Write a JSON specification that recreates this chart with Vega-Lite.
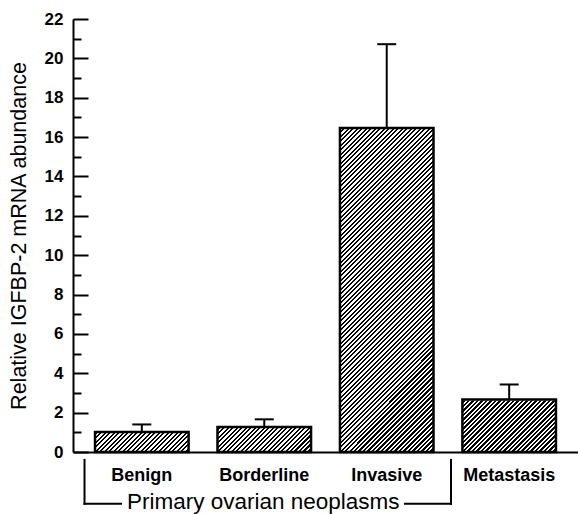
{
"$schema": "https://vega.github.io/schema/vega-lite/v6.json",
"width": 505,
"height": 433,
"autosize": {"type": "none"},
"padding": {"left": 73, "top": 19, "right": 0, "bottom": 62},
"config": {"view": {"stroke": null}, "font": "Liberation Sans", "axis": {"labelOverlap": false}},
"layer": [
{
"data": {"values": [
{"group": "Benign", "value": 1.02, "upper": 1.40},
{"group": "Borderline", "value": 1.27, "upper": 1.66},
{"group": "Invasive", "value": 16.46, "upper": 20.72},
{"group": "Metastasis", "value": 2.67, "upper": 3.43}
]},
"encoding": {
"x": {"field": "group", "type": "nominal", "sort": null,
"scale": {"paddingInner": 0.236, "paddingOuter": 0.18},
"axis": {"title": null, "labelAngle": 0, "ticks": false, "labelPadding": 14, "labelFontSize": 18, "labelFontWeight": "bold", "labelColor": "black", "domainColor": "black", "domainWidth": 2, "grid": false}}
},
"layer": [
{
"mark": {"type": "bar", "stroke": null, "fill": {"gradient": "linear", "x1": 0, "y1": 0, "x2": 0.3102, "y2": 1.181, "stops": [
{"offset":0,"color":"#000"},
{"offset":0.005,"color":"#000"},{"offset":0.005,"color":"#fff"},{"offset":0.01,"color":"#fff"},{"offset":0.01,"color":"#000"},
{"offset":0.015,"color":"#000"},{"offset":0.015,"color":"#fff"},{"offset":0.02,"color":"#fff"},{"offset":0.02,"color":"#000"},
{"offset":0.025,"color":"#000"},{"offset":0.025,"color":"#fff"},{"offset":0.03,"color":"#fff"},{"offset":0.03,"color":"#000"},
{"offset":0.035,"color":"#000"},{"offset":0.035,"color":"#fff"},{"offset":0.04,"color":"#fff"},{"offset":0.04,"color":"#000"},
{"offset":0.045,"color":"#000"},{"offset":0.045,"color":"#fff"},{"offset":0.05,"color":"#fff"},{"offset":0.05,"color":"#000"},
{"offset":0.055,"color":"#000"},{"offset":0.055,"color":"#fff"},{"offset":0.06,"color":"#fff"},{"offset":0.06,"color":"#000"},
{"offset":0.065,"color":"#000"},{"offset":0.065,"color":"#fff"},{"offset":0.07,"color":"#fff"},{"offset":0.07,"color":"#000"},
{"offset":0.075,"color":"#000"},{"offset":0.075,"color":"#fff"},{"offset":0.08,"color":"#fff"},{"offset":0.08,"color":"#000"},
{"offset":0.085,"color":"#000"},{"offset":0.085,"color":"#fff"},{"offset":0.09,"color":"#fff"},{"offset":0.09,"color":"#000"},
{"offset":0.095,"color":"#000"},{"offset":0.095,"color":"#fff"},{"offset":0.1,"color":"#fff"},{"offset":0.1,"color":"#000"},
{"offset":0.105,"color":"#000"},{"offset":0.105,"color":"#fff"},{"offset":0.11,"color":"#fff"},{"offset":0.11,"color":"#000"},
{"offset":0.115,"color":"#000"},{"offset":0.115,"color":"#fff"},{"offset":0.12,"color":"#fff"},{"offset":0.12,"color":"#000"},
{"offset":0.125,"color":"#000"},{"offset":0.125,"color":"#fff"},{"offset":0.13,"color":"#fff"},{"offset":0.13,"color":"#000"},
{"offset":0.135,"color":"#000"},{"offset":0.135,"color":"#fff"},{"offset":0.14,"color":"#fff"},{"offset":0.14,"color":"#000"},
{"offset":0.145,"color":"#000"},{"offset":0.145,"color":"#fff"},{"offset":0.15,"color":"#fff"},{"offset":0.15,"color":"#000"},
{"offset":0.155,"color":"#000"},{"offset":0.155,"color":"#fff"},{"offset":0.16,"color":"#fff"},{"offset":0.16,"color":"#000"},
{"offset":0.165,"color":"#000"},{"offset":0.165,"color":"#fff"},{"offset":0.17,"color":"#fff"},{"offset":0.17,"color":"#000"},
{"offset":0.175,"color":"#000"},{"offset":0.175,"color":"#fff"},{"offset":0.18,"color":"#fff"},{"offset":0.18,"color":"#000"},
{"offset":0.185,"color":"#000"},{"offset":0.185,"color":"#fff"},{"offset":0.19,"color":"#fff"},{"offset":0.19,"color":"#000"},
{"offset":0.195,"color":"#000"},{"offset":0.195,"color":"#fff"},{"offset":0.2,"color":"#fff"},{"offset":0.2,"color":"#000"},
{"offset":0.205,"color":"#000"},{"offset":0.205,"color":"#fff"},{"offset":0.21,"color":"#fff"},{"offset":0.21,"color":"#000"},
{"offset":0.215,"color":"#000"},{"offset":0.215,"color":"#fff"},{"offset":0.22,"color":"#fff"},{"offset":0.22,"color":"#000"},
{"offset":0.225,"color":"#000"},{"offset":0.225,"color":"#fff"},{"offset":0.23,"color":"#fff"},{"offset":0.23,"color":"#000"},
{"offset":0.235,"color":"#000"},{"offset":0.235,"color":"#fff"},{"offset":0.24,"color":"#fff"},{"offset":0.24,"color":"#000"},
{"offset":0.245,"color":"#000"},{"offset":0.245,"color":"#fff"},{"offset":0.25,"color":"#fff"},{"offset":0.25,"color":"#000"},
{"offset":0.255,"color":"#000"},{"offset":0.255,"color":"#fff"},{"offset":0.26,"color":"#fff"},{"offset":0.26,"color":"#000"},
{"offset":0.265,"color":"#000"},{"offset":0.265,"color":"#fff"},{"offset":0.27,"color":"#fff"},{"offset":0.27,"color":"#000"},
{"offset":0.275,"color":"#000"},{"offset":0.275,"color":"#fff"},{"offset":0.28,"color":"#fff"},{"offset":0.28,"color":"#000"},
{"offset":0.285,"color":"#000"},{"offset":0.285,"color":"#fff"},{"offset":0.29,"color":"#fff"},{"offset":0.29,"color":"#000"},
{"offset":0.295,"color":"#000"},{"offset":0.295,"color":"#fff"},{"offset":0.3,"color":"#fff"},{"offset":0.3,"color":"#000"},
{"offset":0.305,"color":"#000"},{"offset":0.305,"color":"#fff"},{"offset":0.31,"color":"#fff"},{"offset":0.31,"color":"#000"},
{"offset":0.315,"color":"#000"},{"offset":0.315,"color":"#fff"},{"offset":0.32,"color":"#fff"},{"offset":0.32,"color":"#000"},
{"offset":0.325,"color":"#000"},{"offset":0.325,"color":"#fff"},{"offset":0.33,"color":"#fff"},{"offset":0.33,"color":"#000"},
{"offset":0.335,"color":"#000"},{"offset":0.335,"color":"#fff"},{"offset":0.34,"color":"#fff"},{"offset":0.34,"color":"#000"},
{"offset":0.345,"color":"#000"},{"offset":0.345,"color":"#fff"},{"offset":0.35,"color":"#fff"},{"offset":0.35,"color":"#000"},
{"offset":0.355,"color":"#000"},{"offset":0.355,"color":"#fff"},{"offset":0.36,"color":"#fff"},{"offset":0.36,"color":"#000"},
{"offset":0.365,"color":"#000"},{"offset":0.365,"color":"#fff"},{"offset":0.37,"color":"#fff"},{"offset":0.37,"color":"#000"},
{"offset":0.375,"color":"#000"},{"offset":0.375,"color":"#fff"},{"offset":0.38,"color":"#fff"},{"offset":0.38,"color":"#000"},
{"offset":0.385,"color":"#000"},{"offset":0.385,"color":"#fff"},{"offset":0.39,"color":"#fff"},{"offset":0.39,"color":"#000"},
{"offset":0.395,"color":"#000"},{"offset":0.395,"color":"#fff"},{"offset":0.4,"color":"#fff"},{"offset":0.4,"color":"#000"},
{"offset":0.405,"color":"#000"},{"offset":0.405,"color":"#fff"},{"offset":0.41,"color":"#fff"},{"offset":0.41,"color":"#000"},
{"offset":0.415,"color":"#000"},{"offset":0.415,"color":"#fff"},{"offset":0.42,"color":"#fff"},{"offset":0.42,"color":"#000"},
{"offset":0.425,"color":"#000"},{"offset":0.425,"color":"#fff"},{"offset":0.43,"color":"#fff"},{"offset":0.43,"color":"#000"},
{"offset":0.435,"color":"#000"},{"offset":0.435,"color":"#fff"},{"offset":0.44,"color":"#fff"},{"offset":0.44,"color":"#000"},
{"offset":0.445,"color":"#000"},{"offset":0.445,"color":"#fff"},{"offset":0.45,"color":"#fff"},{"offset":0.45,"color":"#000"},
{"offset":0.455,"color":"#000"},{"offset":0.455,"color":"#fff"},{"offset":0.46,"color":"#fff"},{"offset":0.46,"color":"#000"},
{"offset":0.465,"color":"#000"},{"offset":0.465,"color":"#fff"},{"offset":0.47,"color":"#fff"},{"offset":0.47,"color":"#000"},
{"offset":0.475,"color":"#000"},{"offset":0.475,"color":"#fff"},{"offset":0.48,"color":"#fff"},{"offset":0.48,"color":"#000"},
{"offset":0.485,"color":"#000"},{"offset":0.485,"color":"#fff"},{"offset":0.49,"color":"#fff"},{"offset":0.49,"color":"#000"},
{"offset":0.495,"color":"#000"},{"offset":0.495,"color":"#fff"},{"offset":0.5,"color":"#fff"},{"offset":0.5,"color":"#000"},
{"offset":0.505,"color":"#000"},{"offset":0.505,"color":"#fff"},{"offset":0.51,"color":"#fff"},{"offset":0.51,"color":"#000"},
{"offset":0.515,"color":"#000"},{"offset":0.515,"color":"#fff"},{"offset":0.52,"color":"#fff"},{"offset":0.52,"color":"#000"},
{"offset":0.525,"color":"#000"},{"offset":0.525,"color":"#fff"},{"offset":0.53,"color":"#fff"},{"offset":0.53,"color":"#000"},
{"offset":0.535,"color":"#000"},{"offset":0.535,"color":"#fff"},{"offset":0.54,"color":"#fff"},{"offset":0.54,"color":"#000"},
{"offset":0.545,"color":"#000"},{"offset":0.545,"color":"#fff"},{"offset":0.55,"color":"#fff"},{"offset":0.55,"color":"#000"},
{"offset":0.555,"color":"#000"},{"offset":0.555,"color":"#fff"},{"offset":0.56,"color":"#fff"},{"offset":0.56,"color":"#000"},
{"offset":0.565,"color":"#000"},{"offset":0.565,"color":"#fff"},{"offset":0.57,"color":"#fff"},{"offset":0.57,"color":"#000"},
{"offset":0.575,"color":"#000"},{"offset":0.575,"color":"#fff"},{"offset":0.58,"color":"#fff"},{"offset":0.58,"color":"#000"},
{"offset":0.585,"color":"#000"},{"offset":0.585,"color":"#fff"},{"offset":0.59,"color":"#fff"},{"offset":0.59,"color":"#000"},
{"offset":0.595,"color":"#000"},{"offset":0.595,"color":"#fff"},{"offset":0.6,"color":"#fff"},{"offset":0.6,"color":"#000"},
{"offset":0.605,"color":"#000"},{"offset":0.605,"color":"#fff"},{"offset":0.61,"color":"#fff"},{"offset":0.61,"color":"#000"},
{"offset":0.615,"color":"#000"},{"offset":0.615,"color":"#fff"},{"offset":0.62,"color":"#fff"},{"offset":0.62,"color":"#000"},
{"offset":0.625,"color":"#000"},{"offset":0.625,"color":"#fff"},{"offset":0.63,"color":"#fff"},{"offset":0.63,"color":"#000"},
{"offset":0.635,"color":"#000"},{"offset":0.635,"color":"#fff"},{"offset":0.64,"color":"#fff"},{"offset":0.64,"color":"#000"},
{"offset":0.645,"color":"#000"},{"offset":0.645,"color":"#fff"},{"offset":0.65,"color":"#fff"},{"offset":0.65,"color":"#000"},
{"offset":0.655,"color":"#000"},{"offset":0.655,"color":"#fff"},{"offset":0.66,"color":"#fff"},{"offset":0.66,"color":"#000"},
{"offset":0.665,"color":"#000"},{"offset":0.665,"color":"#fff"},{"offset":0.67,"color":"#fff"},{"offset":0.67,"color":"#000"},
{"offset":0.675,"color":"#000"},{"offset":0.675,"color":"#fff"},{"offset":0.68,"color":"#fff"},{"offset":0.68,"color":"#000"},
{"offset":0.685,"color":"#000"},{"offset":0.685,"color":"#fff"},{"offset":0.69,"color":"#fff"},{"offset":0.69,"color":"#000"},
{"offset":0.695,"color":"#000"},{"offset":0.695,"color":"#fff"},{"offset":0.7,"color":"#fff"},{"offset":0.7,"color":"#000"},
{"offset":0.705,"color":"#000"},{"offset":0.705,"color":"#fff"},{"offset":0.71,"color":"#fff"},{"offset":0.71,"color":"#000"},
{"offset":0.715,"color":"#000"},{"offset":0.715,"color":"#fff"},{"offset":0.72,"color":"#fff"},{"offset":0.72,"color":"#000"},
{"offset":0.725,"color":"#000"},{"offset":0.725,"color":"#fff"},{"offset":0.73,"color":"#fff"},{"offset":0.73,"color":"#000"},
{"offset":0.735,"color":"#000"},{"offset":0.735,"color":"#fff"},{"offset":0.74,"color":"#fff"},{"offset":0.74,"color":"#000"},
{"offset":0.745,"color":"#000"},{"offset":0.745,"color":"#fff"},{"offset":0.75,"color":"#fff"},{"offset":0.75,"color":"#000"},
{"offset":0.755,"color":"#000"},{"offset":0.755,"color":"#fff"},{"offset":0.76,"color":"#fff"},{"offset":0.76,"color":"#000"},
{"offset":0.765,"color":"#000"},{"offset":0.765,"color":"#fff"},{"offset":0.77,"color":"#fff"},{"offset":0.77,"color":"#000"},
{"offset":0.775,"color":"#000"},{"offset":0.775,"color":"#fff"},{"offset":0.78,"color":"#fff"},{"offset":0.78,"color":"#000"},
{"offset":0.785,"color":"#000"},{"offset":0.785,"color":"#fff"},{"offset":0.79,"color":"#fff"},{"offset":0.79,"color":"#000"},
{"offset":0.795,"color":"#000"},{"offset":0.795,"color":"#fff"},{"offset":0.8,"color":"#fff"},{"offset":0.8,"color":"#000"},
{"offset":0.805,"color":"#000"},{"offset":0.805,"color":"#fff"},{"offset":0.81,"color":"#fff"},{"offset":0.81,"color":"#000"},
{"offset":0.815,"color":"#000"},{"offset":0.815,"color":"#fff"},{"offset":0.82,"color":"#fff"},{"offset":0.82,"color":"#000"},
{"offset":0.825,"color":"#000"},{"offset":0.825,"color":"#fff"},{"offset":0.83,"color":"#fff"},{"offset":0.83,"color":"#000"},
{"offset":0.835,"color":"#000"},{"offset":0.835,"color":"#fff"},{"offset":0.84,"color":"#fff"},{"offset":0.84,"color":"#000"},
{"offset":0.845,"color":"#000"},{"offset":0.845,"color":"#fff"},{"offset":0.85,"color":"#fff"},{"offset":0.85,"color":"#000"},
{"offset":0.855,"color":"#000"},{"offset":0.855,"color":"#fff"},{"offset":0.86,"color":"#fff"},{"offset":0.86,"color":"#000"},
{"offset":0.865,"color":"#000"},{"offset":0.865,"color":"#fff"},{"offset":0.87,"color":"#fff"},{"offset":0.87,"color":"#000"},
{"offset":0.875,"color":"#000"},{"offset":0.875,"color":"#fff"},{"offset":0.88,"color":"#fff"},{"offset":0.88,"color":"#000"},
{"offset":0.885,"color":"#000"},{"offset":0.885,"color":"#fff"},{"offset":0.89,"color":"#fff"},{"offset":0.89,"color":"#000"},
{"offset":0.895,"color":"#000"},{"offset":0.895,"color":"#fff"},{"offset":0.9,"color":"#fff"},{"offset":0.9,"color":"#000"},
{"offset":0.905,"color":"#000"},{"offset":0.905,"color":"#fff"},{"offset":0.91,"color":"#fff"},{"offset":0.91,"color":"#000"},
{"offset":0.915,"color":"#000"},{"offset":0.915,"color":"#fff"},{"offset":0.92,"color":"#fff"},{"offset":0.92,"color":"#000"},
{"offset":0.925,"color":"#000"},{"offset":0.925,"color":"#fff"},{"offset":0.93,"color":"#fff"},{"offset":0.93,"color":"#000"},
{"offset":0.935,"color":"#000"},{"offset":0.935,"color":"#fff"},{"offset":0.94,"color":"#fff"},{"offset":0.94,"color":"#000"},
{"offset":0.945,"color":"#000"},{"offset":0.945,"color":"#fff"},{"offset":0.95,"color":"#fff"},{"offset":0.95,"color":"#000"},
{"offset":0.955,"color":"#000"},{"offset":0.955,"color":"#fff"},{"offset":0.96,"color":"#fff"},{"offset":0.96,"color":"#000"},
{"offset":0.965,"color":"#000"},{"offset":0.965,"color":"#fff"},{"offset":0.97,"color":"#fff"},{"offset":0.97,"color":"#000"},
{"offset":0.975,"color":"#000"},{"offset":0.975,"color":"#fff"},{"offset":0.98,"color":"#fff"},{"offset":0.98,"color":"#000"},
{"offset":0.985,"color":"#000"},{"offset":0.985,"color":"#fff"},{"offset":0.99,"color":"#fff"},{"offset":0.99,"color":"#000"},
{"offset":0.995,"color":"#000"},{"offset":0.995,"color":"#fff"},{"offset":1,"color":"#fff"}
]}},
"encoding": {
"y": {"datum": 18.1, "type": "quantitative", "scale": {"domain": [0, 22], "nice": false},
"axis": {
"orient": "left",
"title": "Relative IGFBP-2 mRNA abundance",
"values": [0,2,4,6,8,10,12,14,16,18,20,22],
"tickSize": -15,
"tickWidth": 2, "tickColor": "black",
"domainWidth": 2, "domainColor": "black",
"labelPadding": 25, "labelFontSize": 17, "labelFontWeight": "bold", "labelColor": "black", "labelOverlap": false,
"titleFontSize": 21.5, "titleFontWeight": "normal", "titleColor": "black",
"titleX": -48, "titleY": 216.5, "titleBaseline": "alphabetic", "titleAngle": -90, "titleAlign": "center",
"grid": false}},
"y2": {"datum": 0}
}
},
{
"mark": {"type": "bar", "fill": "white", "stroke": "white", "strokeWidth": 2},
"encoding": {
"y": {"field": "value", "type": "quantitative",
"axis": {"orient": "left", "values": [1,3,5,7,9,11,13,15,17,19,21], "tickSize": -8, "tickWidth": 2, "tickColor": "black", "labels": false, "domain": false, "title": null, "grid": false}},
"y2": {"datum": 18.3}}
},
{
"mark": {"type": "bar", "fill": "transparent", "stroke": "black", "strokeWidth": 2.5},
"encoding": {"y": {"field": "value", "type": "quantitative", "axis": null}, "y2": {"datum": 0}}
},
{
"mark": {"type": "rule", "color": "black", "strokeWidth": 2},
"encoding": {"y": {"field": "value", "type": "quantitative", "axis": null}, "y2": {"field": "upper"}}
},
{
"mark": {"type": "tick", "color": "black", "size": 19, "thickness": 2, "orient": "horizontal", "opacity": 1},
"encoding": {"y": {"field": "upper", "type": "quantitative", "axis": null}}
}
],
"resolve": {"axis": {"y": "independent"}}
},
{
"data": {"values": [{}]},
"layer": [
{
"mark": {"type": "rule", "color": "black", "strokeWidth": 2, "strokeCap": "square"},
"encoding": {
"x": {"datum": 0.094, "type": "quantitative", "scale": {"domain": [0, 4.124], "nice": false, "zero": false}, "axis": null},
"y": {"datum": -0.4, "type": "quantitative", "scale": {"domain": [0, 22], "nice": false}, "axis": null},
"y2": {"datum": -2.63}
}
},
{
"mark": {"type": "rule", "color": "black", "strokeWidth": 2, "strokeCap": "square"},
"encoding": {
"x": {"datum": 0.094, "type": "quantitative"},
"x2": {"datum": 0.392},
"y": {"datum": -2.63, "type": "quantitative"}
}
},
{
"mark": {"type": "rule", "color": "black", "strokeWidth": 2, "strokeCap": "square"},
"encoding": {
"x": {"datum": 2.711, "type": "quantitative"},
"x2": {"datum": 3.087},
"y": {"datum": -2.63, "type": "quantitative"}
}
},
{
"mark": {"type": "rule", "color": "black", "strokeWidth": 2, "strokeCap": "square"},
"encoding": {
"x": {"datum": 3.087, "type": "quantitative"},
"y": {"datum": -0.4, "type": "quantitative"},
"y2": {"datum": -2.63}
}
},
{
"mark": {"type": "text", "text": "Primary ovarian neoplasms", "fontSize": 22.5, "align": "center", "baseline": "alphabetic", "color": "black"},
"encoding": {
"x": {"datum": 1.554, "type": "quantitative"},
"y": {"datum": -2.88, "type": "quantitative"}
}
}
]
}
],
"resolve": {"scale": {"x": "independent", "y": "independent"}}
}
